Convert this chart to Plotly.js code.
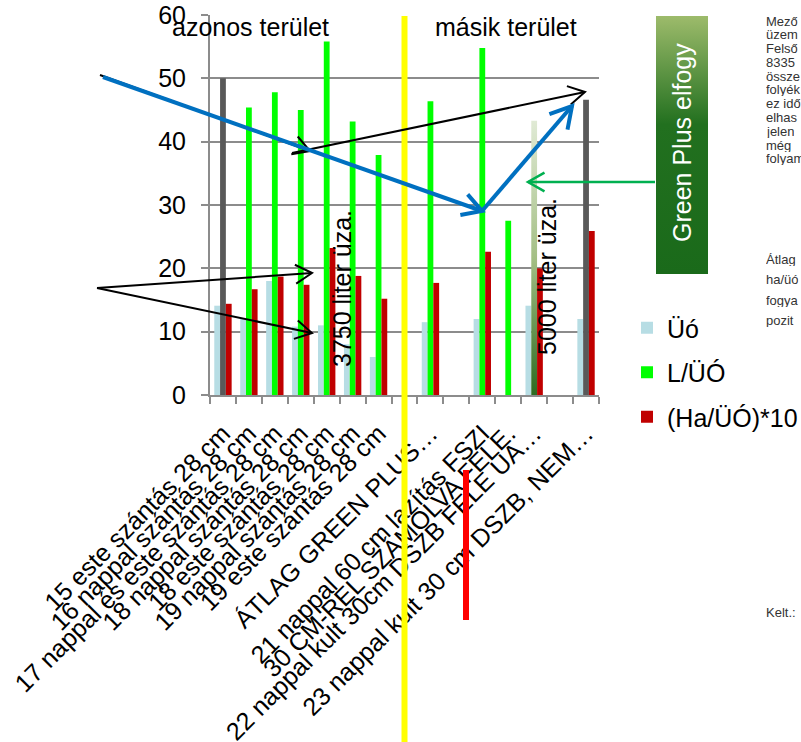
<!DOCTYPE html>
<html><head><meta charset="utf-8">
<script src="https://cdn.plot.ly/plotly-3.0.1.min.js"></script>
<style>html,body{margin:0;padding:0;background:#fff;overflow:hidden}#chart{width:801px;height:742px}</style>
</head><body><div id="chart"></div><script>
// ---------------- data ----------------
const categories = [
  "15 este szántás 28 cm",
  "16 nappal szántás 28 cm",
  "17 nappal és este szántás 28 cm",
  "18 nappal szántás 28 cm",
  "18 este szántás 28 cm",
  "19 nappal szántás 28 cm",
  "19 este szántás 28 cm",
  " ",
  "ÁTLAG GREEN PLUS\u2026",
  "  ",
  "21 nappal 60 cm lazítás FSZI",
  "30 CM-REL SZÁMOLVA FELE.",
  "22 nappal kult 30cm DSZB FELE UA\u2026",
  "   ",
  "23 nappal kult 30 cm DSZB, NEM\u2026"
];
const uo         = [14.1, 12.0, 18.0, 10.8, 11.0, 8.0, 6.0, null, 11.5, null, 12.0, null, 14.1, null, 12.0];
const lPerUo     = [50.0, 45.4, 47.8, 45.0, 55.8, 43.2, 37.9, null, 46.4, null, 54.8, 27.5, 43.3, null, 46.6];
const haPerUo10  = [14.4, 16.7, 18.7, 17.4, 23.2, 18.8, 15.2, null, 17.7, null, 22.6, null, 20.0, null, 25.9];
const seriesNames = ["Üó", "L/ÜÓ", "(Ha/ÜÓ)*10"];
const highlighted = [0, 12, 14];          // L/ÜÓ points drawn in a different colour
const gradientPoint = 12;                 // the "Green Plus" bar
const separatorIndex = 7;                 // yellow divider between the two areas
const yTicks = [0, 10, 20, 30, 40, 50, 60];
const sectionLabels = ["azonos terület", "másik terület"];
const noteLabels = ["3750 liter üza.", "5000 liter üza."];
const boxLabel = "Green Plus elfogy";
const sideText1 = ["Mező", "üzem", "Felső", "8335", "össze", "folyék", "ez idő", "elhas", "jelen", "még", "folyam"];
const sideText2 = ["Átlag", "ha/üó", "fogya", "pozit"];
const footText = "Kelt.:";

// ---------------- helpers (pixel -> paper) ----------------
const PL = 210, PT = 15, PW = 389, PH = 380;
const px = x => (x - PL) / PW;
const py = y => (PT + PH - y) / PH;

const shapes = [];
function line(x1, y1, x2, y2, color, width) {
  shapes.push({type: 'line', xref: 'paper', yref: 'paper', x0: px(x1), y0: py(y1), x1: px(x2), y1: py(y2),
    line: {color: color, width: width}, layer: 'above'});
}
function arrow(x1, y1, x2, y2, color, width, head) {
  line(x1, y1, x2, y2, color, width);
  const ang = Math.atan2(y1 - y2, x1 - x2);
  const a = 0.52;
  const ax1 = x2 + head * Math.cos(ang + a), ay1 = y2 + head * Math.sin(ang + a);
  const ax2 = x2 + head * Math.cos(ang - a), ay2 = y2 + head * Math.sin(ang - a);
  shapes.push({type: 'path', xref: 'paper', yref: 'paper', layer: 'above',
    path: `M${px(ax1)},${py(ay1)} L${px(x2)},${py(y2)} L${px(ax2)},${py(ay2)}`,
    line: {color: color, width: width}});
}

// divider lines
shapes.push({type: 'line', xref: 'x', yref: 'paper', x0: separatorIndex, x1: separatorIndex,
  y0: py(745), y1: py(16), line: {color: '#ffff00', width: 6}, layer: 'above'});
line(466, 470, 466, 620, '#ff0000', 6);

// arrows
arrow(100, 75, 310, 151, '#000000', 2, 19);
arrow(292, 153, 585, 92, '#000000', 2, 19);
arrow(103, 77, 482, 211, '#0070c0', 4, 22);
arrow(482, 211, 572, 106, '#0070c0', 4, 24);
arrow(97, 288, 312, 273, '#000000', 2, 19);
arrow(97, 288, 312, 333, '#000000', 2, 19);
arrow(655, 182, 528, 182, '#00b050', 2.5, 19);

// ---------------- traces ----------------
const greenMain = lPerUo.map((v, i) => highlighted.includes(i) ? null : v);
const greenSpecial = lPerUo.map((v, i) => highlighted.includes(i) ? v : null);
const specialColors = categories.map((_, i) => i === gradientPoint ? '#a4bf85' : '#595959');

const data = [
  {type: 'bar', name: seriesNames[0], x: categories, y: uo, offsetgroup: 'a', legendgroup: 'a',
   marker: {color: '#b7dde4'}},
  {type: 'bar', name: seriesNames[1], x: categories, y: greenMain, offsetgroup: 'b', legendgroup: 'b',
   marker: {color: '#00ff00'}},
  {type: 'bar', name: 'special', x: categories, y: greenSpecial, offsetgroup: 'b', legendgroup: 'b',
   showlegend: false, marker: {color: specialColors}},
  {type: 'bar', name: seriesNames[2], x: categories, y: haPerUo10, offsetgroup: 'c', legendgroup: 'c',
   marker: {color: '#c00000'}}
];

// ---------------- annotations ----------------
const F = 'Liberation Sans, Arial, sans-serif';
const annotations = [
  {text: sectionLabels[0], x: px(250), y: py(27)},
  {text: sectionLabels[1], x: px(506), y: py(27)},
  {text: noteLabels[0], x: px(342), y: py(289), textangle: -90},
  {text: noteLabels[1], x: px(547), y: py(277), textangle: -90},
  {text: boxLabel, x: px(682), y: py(143), textangle: -90, font: {family: F, size: 25, color: '#ffffff'}}
].map(a => Object.assign({xref: 'paper', yref: 'paper', showarrow: false, xanchor: 'center', yanchor: 'middle',
  font: {family: F, size: 25, color: '#000'}}, a));

const sideFont = {family: F, size: 13, color: '#333'};
sideText1.forEach((t, k) => annotations.push({text: t, xref: 'paper', yref: 'paper', x: px(764), y: py(21 + 13.8 * k),
  xanchor: 'left', yanchor: 'middle', showarrow: false, font: sideFont, height: 13}));
sideText2.forEach((t, k) => annotations.push({text: t, xref: 'paper', yref: 'paper', x: px(764), y: py(259 + 20.5 * k),
  xanchor: 'left', yanchor: 'middle', showarrow: false, font: sideFont, height: 13}));
annotations.push({text: footText, xref: 'paper', yref: 'paper', x: px(764), y: py(612),
  xanchor: 'left', yanchor: 'middle', showarrow: false, font: sideFont, height: 13});

// gradient box (image)
const boxSvg = "<svg xmlns='http://www.w3.org/2000/svg' width='52' height='258' preserveAspectRatio='none'>" +
  "<defs><linearGradient id='g' x1='0' y1='0' x2='0' y2='1'>" +
  "<stop offset='0' stop-color='#9dbb6b'/><stop offset='0.42' stop-color='#22701f'/><stop offset='1' stop-color='#1a6a1a'/>" +
  "</linearGradient></defs><rect width='52' height='258' fill='url(#g)'/></svg>";

const layout = {
  width: 801, height: 742,
  margin: {l: PL, r: 801 - PL - PW, t: PT, b: 742 - PT - PH, pad: 0, autoexpand: false},
  paper_bgcolor: '#ffffff', plot_bgcolor: 'rgba(0,0,0,0)',
  font: {family: F, size: 25, color: '#000'},
  barmode: 'group', bargap: 0.33, bargroupgap: 0,
  xaxis: {type: 'category', tickmode: 'linear', tick0: 0, dtick: 1, tickson: 'boundaries',
    ticks: 'outside', ticklen: 7, tickwidth: 2, tickcolor: '#8c8c8c',
    showline: true, linecolor: '#8c8c8c', linewidth: 2, showgrid: false, tickangle: -45,
    tickfont: {family: F, size: 25, color: '#000'}, automargin: false, range: [-0.5, 14.5], ticklabelstandoff: 12},
  yaxis: {range: [0, 60], tickvals: yTicks, ticks: 'outside', ticklen: 7, tickwidth: 2, tickcolor: '#8c8c8c',
    showline: true, linecolor: '#8c8c8c', linewidth: 2, showgrid: true, gridcolor: '#8c8c8c', gridwidth: 2,
    zeroline: false, tickfont: {family: F, size: 25, color: '#000'}, automargin: false, ticklabelstandoff: 10},
  showlegend: true,
  legend: {x: px(627), xanchor: 'left', y: py(305), yanchor: 'top', traceorder: 'grouped', tracegroupgap: 9,
    font: {family: F, size: 25, color: '#000'}, bgcolor: 'rgba(0,0,0,0)', itemwidth: 30},
  shapes: shapes,
  annotations: annotations,
  images: [{source: 'data:image/svg+xml;charset=utf-8,' + encodeURIComponent(boxSvg), xref: 'paper', yref: 'paper',
    x: px(656), y: py(16), sizex: 52 / PW, sizey: 258 / PH, xanchor: 'left', yanchor: 'top', sizing: 'stretch', layer: 'below'}]
};

const gd = document.getElementById('chart');
Plotly.newPlot(gd, data, layout, {staticPlot: true, displayModeBar: false}).then(() => {
  const ns = 'http://www.w3.org/2000/svg';
  const svg = gd.querySelector('svg.main-svg');
  let defs = svg.querySelector('defs');
  if (!defs) { defs = document.createElementNS(ns, 'defs'); svg.insertBefore(defs, svg.firstChild); }
  const lg = document.createElementNS(ns, 'linearGradient');
  lg.setAttribute('id', 'greenPlusBar');
  lg.setAttribute('x1', '0'); lg.setAttribute('y1', '0'); lg.setAttribute('x2', '0'); lg.setAttribute('y2', '1');
  [['0', '#e0ead5'], ['0.5', '#a4bf85'], ['1', '#2d6b21']].forEach(s => {
    const st = document.createElementNS(ns, 'stop');
    st.setAttribute('offset', s[0]); st.setAttribute('stop-color', s[1]); lg.appendChild(st);
  });
  defs.appendChild(lg);
  gd.querySelectorAll('.barlayer .trace').forEach(t => {
    const cd = t.__data__;
    if (!cd || !cd[0] || !cd[0].trace || cd[0].trace.name !== 'special') return;
    t.querySelectorAll('.point').forEach(p => {
      const d = p.__data__;
      if (d && (d.p === gradientPoint || d.i === gradientPoint)) {
        const path = p.querySelector('path');
        if (path) path.style.fill = 'url(#greenPlusBar)';
      }
    });
  });
});
</script></body></html>
